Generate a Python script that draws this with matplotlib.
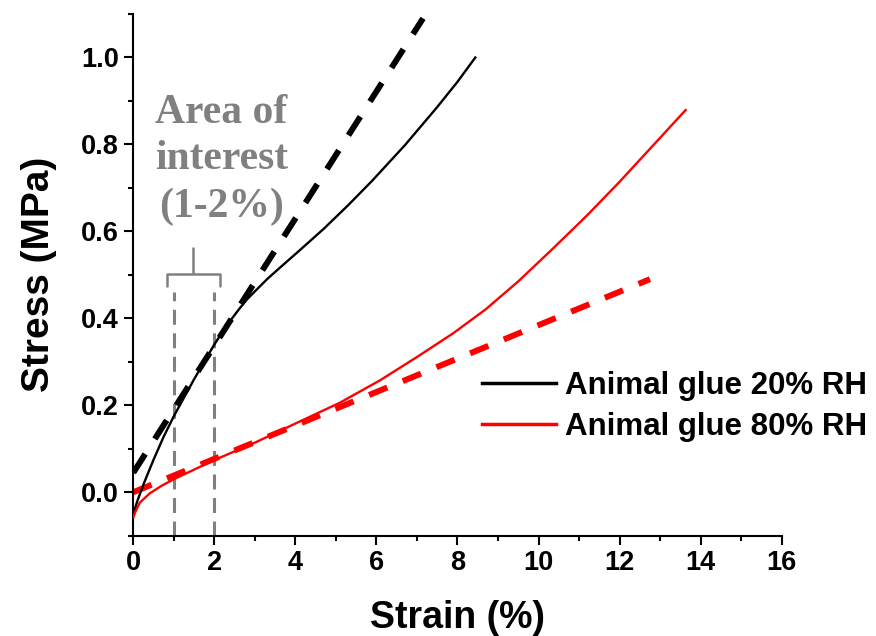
import matplotlib
matplotlib.use("Agg")
import matplotlib.pyplot as plt
from matplotlib.ticker import MultipleLocator

plt.rcParams["font.family"] = ["Liberation Sans", "DejaVu Sans"]
plt.rcParams["font.weight"] = "bold"

# Stress-strain curves (strain in %, stress in MPa)
strain_20 = [0, 0.1, 0.25, 0.5, 0.75, 1.0, 1.5, 2.0, 2.3, 2.6, 2.8, 3.0, 3.3, 3.6, 4.1, 4.7, 5.3,
             5.9, 6.7, 7.5, 8.0, 8.44]
stress_20 = [-0.05, -0.02, 0.018, 0.075, 0.128, 0.175, 0.26, 0.34, 0.383, 0.42, 0.443, 0.462, 0.49,
             0.515, 0.556, 0.606, 0.66, 0.717, 0.798, 0.886, 0.944, 1.0]

strain_80 = [0, 0.05, 0.16, 0.4, 0.7, 1.0, 1.5, 2.0, 3.0, 4.0, 5.1, 6.1, 7.05, 7.9, 8.7, 9.5, 10.35,
             11.2, 12.0, 12.8, 13.63]
stress_80 = [-0.058, -0.045, -0.024, -0.003, 0.015, 0.03, 0.052, 0.074, 0.114, 0.158, 0.206, 0.258,
             0.314, 0.366, 0.421, 0.485, 0.56, 0.637, 0.714, 0.795, 0.879]

# Linear fits over the 1-2 % window
fit_20_x = [0, 7.15]
fit_20_y = [0.045, 1.09]
fit_80_x = [0, 12.75]
fit_80_y = [0.0, 0.49]

window = [1, 2]
labels = ["Animal glue 20% RH", "Animal glue 80% RH"]
gray = "#808080"

fig = plt.figure(figsize=(8.76, 6.36), dpi=100)
ax = fig.add_axes([0.1522, 0.1577, 0.7401, 0.8203])

ax.plot(strain_20, stress_20, color="black", lw=1.7, label=labels[0], zorder=3)
ax.plot(strain_80, stress_80, color="red", lw=1.7, label=labels[1], zorder=3)
ax.plot(fit_20_x, fit_20_y, color="black", lw=4.3, dashes=(3.7, 3.0), zorder=2)
ax.plot(fit_80_x, fit_80_y, color="red", lw=4.3, dashes=(3.3, 2.8), zorder=2)

# Window markers and bracket
for w in window:
    ax.plot([w, w], [-0.1, 0.46], color=gray, lw=2.2, dashes=(4.9, 2.8), zorder=1)
ax.plot([0.83, 0.83, 2.14, 2.14], [0.474, 0.503, 0.503, 0.474], color=gray, lw=1.8,
        solid_joinstyle="round", solid_capstyle="round")
ax.plot([1.47, 1.47], [0.503, 0.564], color=gray, lw=1.8, solid_capstyle="butt")
ax.text(2.17, 0.765, "Area of\ninterest\n(1-2%)", family=["Liberation Serif", "DejaVu Serif"],
        fontweight="bold", fontsize=30, color=gray, ha="center", va="center", linespacing=1.3)

ax.set_xlim(0, 16)
ax.set_ylim(-0.1, 1.1)
ax.xaxis.set_major_locator(MultipleLocator(2))
ax.xaxis.set_minor_locator(MultipleLocator(1))
ax.yaxis.set_minor_locator(MultipleLocator(0.1))
ax.set_yticks([0.0, 0.2, 0.4, 0.6, 0.8, 1.0])
ax.set_yticklabels(["0.0", "0.2", "0.4", "0.6", "0.8", "1.0"])

for side in ("top", "right"):
    ax.spines[side].set_visible(False)
for side in ("left", "bottom"):
    ax.spines[side].set_linewidth(1.5)
ax.tick_params(which="major", direction="out", length=6.5, width=1.5, labelsize=19.5, pad=4)
ax.tick_params(which="minor", direction="out", length=3.5, width=1.5)

ax.set_xlabel("Strain (%)", fontsize=27, fontweight="bold", labelpad=17)
ax.set_ylabel("Stress (MPa)", fontsize=28, fontweight="bold", labelpad=17)

leg = ax.legend(loc="upper left", bbox_to_anchor=(481.7 / 876, 1 - 371 / 636),
                bbox_transform=fig.transFigure, frameon=False, fontsize=22.5,
                handlelength=2.37, handletextpad=0.29, labelspacing=0.34,
                borderpad=0, borderaxespad=0)
for t in leg.get_texts():
    t.set_fontweight("bold")
for h in leg.get_lines():
    h.set_linewidth(2.5)

fig.savefig("out.png", dpi=100)
